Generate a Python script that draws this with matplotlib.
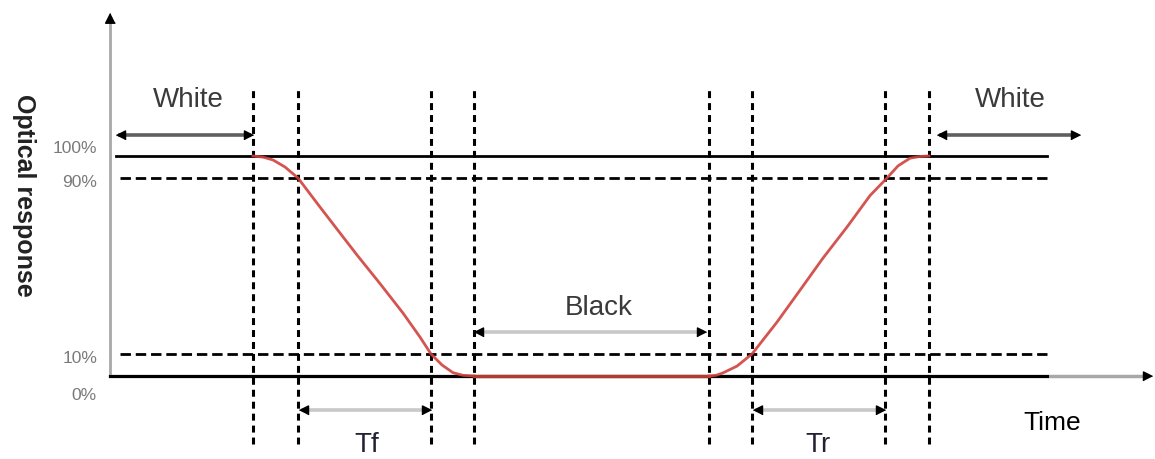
import matplotlib
matplotlib.use('Agg')
from matplotlib import pyplot as plt

plt.rcParams['font.family'] = ['Liberation Sans', 'DejaVu Sans']
plt.rcParams['lines.scale_dashes'] = False

# transition instants (time axis) and reference levels (%)
t_edges = [253, 298, 431, 474, 709, 752, 885, 929]
levels = [100, 90, 10, 0]
level_labels = ['100%', '90%', '10%', '0%']

# optical response: falling edge then rising edge
t_fall = [253, 263, 273, 285, 298, 320, 340, 357, 380, 403, 420, 431, 442, 453, 463, 474]
r_fall = [100, 99.5, 98.2, 95, 90, 76.8, 65, 55, 42, 28.6, 17.7, 10, 5, 1.5, 0.3, 0]
t_rise = [709, 716, 723, 737, 752, 777, 800, 823, 847, 870, 887, 898, 910, 920, 929]
r_rise = [0, 0.3, 1.4, 4.5, 10, 24.5, 39, 53.6, 67.7, 82, 90, 95.5, 99, 99.8, 100]

# labelled spans: (start, end, label)
spans = [(116, 253, 'White'), (937, 1080, 'White'), (474, 706, 'Black'),
         (299, 431, 'Tf'), (753, 885, 'Tr')]

fig = plt.figure(figsize=(11.55, 4.59), dpi=100)
ax = fig.add_axes([0, 0, 1, 1])
ax.axis('off')
ax.set_xlim(0, 1155)
ax.set_ylim(-37.73, 170.91)

t0, t_end = 110, 1047


def head(x, y, direction, ms=14):
    shapes = {
        'right': [(0, 0), (-1, 0.5), (-1, -0.5)],
        'left': [(0, 0), (1, 0.5), (1, -0.5)],
        'up': [(0, 0), (-0.5, -1), (0.5, -1)],
    }
    ax.plot([x], [y], marker=shapes[direction], ms=ms, color='black',
            mec='black', lw=0, zorder=6)


# axes
ax.plot([t0, t0], [0, 160], color='#a8a8a8', lw=2, zorder=2)
head(t0, 165, 'up', ms=14)
ax.plot([t0, 1145], [0, 0], color='#a8a8a8', lw=2.5, zorder=2)
head(1152, 0, 'right', ms=13)
ax.plot([t0, t_end], [0, 0], color='black', lw=2.2, zorder=3)

# level lines
ax.plot([116, t_end], [levels[0], levels[0]], color='black', lw=2, zorder=3)
for lv in levels[1:3]:
    ax.plot([120, t_end], [lv, lv], color='black', lw=2, dashes=(7.5, 3.5), zorder=3)

label_dy = [3.6, -2, -2, -9]
for lv, lab, dy in zip(levels, level_labels, label_dy):
    ax.text(97, lv + dy, lab, ha='right', va='center', fontsize=12.5, color='#7a7a7a')

# edge markers
for t in t_edges:
    ax.plot([t, t], [-31, 131], color='black', lw=2.2, dashes=(5, 3.6), zorder=4)

# response curve
ax.plot(t_fall, r_fall, color='#d0413d', lw=2, zorder=5, alpha=0.9)
ax.plot([t_fall[-1], t_rise[0]], [0, 0], color='#b03a30', lw=2.4, zorder=5)
ax.plot(t_rise, r_rise, color='#d0413d', lw=2, zorder=5, alpha=0.9)

# spans
span_y = [109.5, 109.5, 20, -15.5, -15.5]
span_col = ['#5f5f5f', '#5f5f5f', '#c8c8c8', '#c8c8c8', '#c8c8c8']
for (a, b, lab), y, c in zip(spans, span_y, span_col):
    ax.plot([a + 4, b - 4], [y, y], color=c, lw=2.6, zorder=5)
    head(a, y, 'left', ms=13)
    head(b, y, 'right', ms=13)

text_pos = [(188, 125.5), (1010, 125.5), (599, 31), (367, -37.4), (818, -37.4)]
for (a, b, lab), (x, y) in zip(spans, text_pos):
    if lab in ('Tf', 'Tr'):
        ax.text(x, y, lab, ha='center', va='bottom', fontsize=20, color='#222233')
    else:
        ax.text(x, y, lab, ha='center', va='center', fontsize=20, color='#3a3a3a')

ax.text(1052, -21.5, 'Time', ha='center', va='center', fontsize=19, color='black')
ax.text(24, 82, 'Optical response', rotation=270, ha='center', va='center',
        fontsize=18, fontweight='bold', color='#222222')

fig.savefig('out.png', dpi=100)
